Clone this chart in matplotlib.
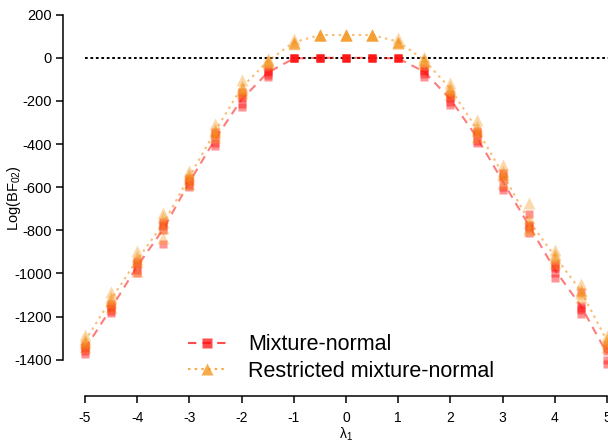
import numpy as np
import matplotlib
matplotlib.use("Agg")
import matplotlib.pyplot as plt
from matplotlib.lines import Line2D

plt.rcParams['font.family'] = ['Liberation Sans', 'DejaVu Sans']
plt.rcParams['mathtext.fontset'] = 'custom'
plt.rcParams['mathtext.rm'] = 'Liberation Sans'
plt.rcParams['mathtext.it'] = 'Liberation Sans:italic'
plt.rcParams['axes.unicode_minus'] = False

# ---- data ----
lam = [-5, -4.5, -4, -3.5, -3, -2.5, -2, -1.5, -1, -0.5, 0, 0.5, 1, 1.5, 2, 2.5, 3, 3.5, 4, 4.5, 5]

mix_rep1 = [-1330, -1140, -940, -760, -555, -345, -160, -50, -3, 0, 0, 0, -3, -45, -170, -340, -535, -775, -955, -1150, -1330]
mix_rep2 = [-1345, -1160, -960, -780, -570, -370, -185, -65, -3, 0, 0, 0, -3, -60, -185, -360, -560, -790, -975, -1170, -1345]
mix_rep3 = [-1360, -1175, -985, -800, -590, -395, -215, -80, -3, 0, 0, 0, -3, -75, -205, -385, -600, -810, -1000, -1190, -1360]
mix_rep4 = [-1375, -1185, -1000, -864, -600, -410, -230, -90, -3, 0, 0, 0, -3, -90, -220, -395, -615, -725, -1020, -1085, -1420]
mix_rep5 = [-1340, -1150, -950, -770, -565, -355, -175, -60, -3, 0, 0, 0, -3, -55, -180, -350, -550, -780, -965, -1160, -1400]

res_rep1 = [-1285, -1085, -895, -718, -525, -305, -105, -5, 85, 108, 108, 108, 90, 5, -115, -290, -495, -675, -890, -1050, -1290]
res_rep2 = [-1305, -1110, -920, -740, -540, -330, -130, -12, 72, 105, 105, 105, 75, -5, -135, -315, -525, -745, -910, -1075, -1305]
res_rep3 = [-1320, -1130, -945, -760, -560, -350, -150, -20, 68, 105, 105, 105, 70, -15, -150, -340, -545, -765, -930, -1090, -1320]
res_rep4 = [-1340, -1155, -990, -835, -585, -365, -165, -30, 65, 105, 105, 105, 68, -30, -170, -365, -580, -790, -950, -1110, -1340]
res_rep5 = [-1315, -1120, -935, -790, -550, -340, -140, -15, 70, 105, 105, 105, 72, -10, -145, -330, -540, -800, -920, -1080, -1310]

x_ticks = [-5, -4, -3, -2, -1, 0, 1, 2, 3, 4, 5]
y_ticks = [200, 0, -200, -400, -600, -800, -1000, -1200, -1400]
labels = ["Mixture-normal", "Restricted mixture-normal"]

mix_reps = np.array([mix_rep1, mix_rep2, mix_rep3, mix_rep4, mix_rep5])
res_reps = np.array([res_rep1, res_rep2, res_rep3, res_rep4, res_rep5])
mix_mean = mix_reps.mean(axis=0)
res_mean = res_reps.mean(axis=0)

red = '#FF1010'
orange = '#F5961E'

W, H = 608, 447
fig = plt.figure(figsize=(W / 100, H / 100), dpi=100)
ax = fig.add_axes([63 / W, (H - 396) / H, (629 - 63) / W, 396 / H])
ax.set_xlim(-5.42, 5.42)
ax.set_ylim(-1568, 268)

# reference line
ax.plot([-5, 5.6], [0, 0], color='black', lw=1.4, ls=(0, (1.4, 1.4)), zorder=1, clip_on=False)

# mean lines
ax.plot(lam, mix_mean, color=red, alpha=0.55, lw=1.5, ls=(0, (4, 3)), zorder=2)
ax.plot(lam, res_mean, color=orange, alpha=0.6, lw=1.5, ls=(0, (1.2, 2)), zorder=2)

# replicate markers
for rep in mix_reps:
    ax.plot(lam, rep, ls='none', marker='s', ms=5.8, mec='none', mfc=red, alpha=0.45, zorder=3)
for rep in res_reps:
    ax.plot(lam, rep, ls='none', marker='^', ms=8, mec='none', mfc=orange, alpha=0.36, zorder=4)

# axes styling (R-like)
for s in ['top', 'right']:
    ax.spines[s].set_visible(False)
ax.spines['left'].set_bounds(-1400, 200)
ax.spines['bottom'].set_bounds(-5, 5)
ax.spines['left'].set_linewidth(1.1)
ax.spines['bottom'].set_linewidth(1.1)
ax.set_xticks(x_ticks)
ax.set_xticklabels([str(v) for v in x_ticks])
ax.set_yticks(y_ticks)
ax.set_yticklabels([str(v) for v in y_ticks])
ax.tick_params(axis='y', length=5, width=1.1, pad=3, labelsize=10.5)
ax.tick_params(axis='x', length=5, width=1.1, pad=6, labelsize=10)

ax.set_ylabel('Log(BF$_{02}$)', fontsize=10.5)
ax.yaxis.set_label_coords((23 - 63) / 566, 0.5)
ax.set_xlabel('λ$_{1}$', fontsize=10)
ax.xaxis.set_label_coords(0.5, (396 - 434) / 396)
ax.xaxis.label.set_va('center')

handles = [
    Line2D([], [], color=red, alpha=0.75, lw=1.5, ls=(0, (4, 3)), marker='s', ms=6.5, mec='none'),
    Line2D([], [], color=orange, alpha=0.8, lw=1.5, ls=(0, (1.2, 2)), marker='^', ms=9, mec='none'),
]
fig.legend(handles, labels, loc='center left', bbox_to_anchor=(188 / W, (H - 358) / H),
           bbox_transform=fig.transFigure, frameon=False, fontsize=15.5, borderpad=0,
           borderaxespad=0, handlelength=1.8, handletextpad=1.0, labelspacing=0.25)

fig.savefig('out.png', dpi=100)
